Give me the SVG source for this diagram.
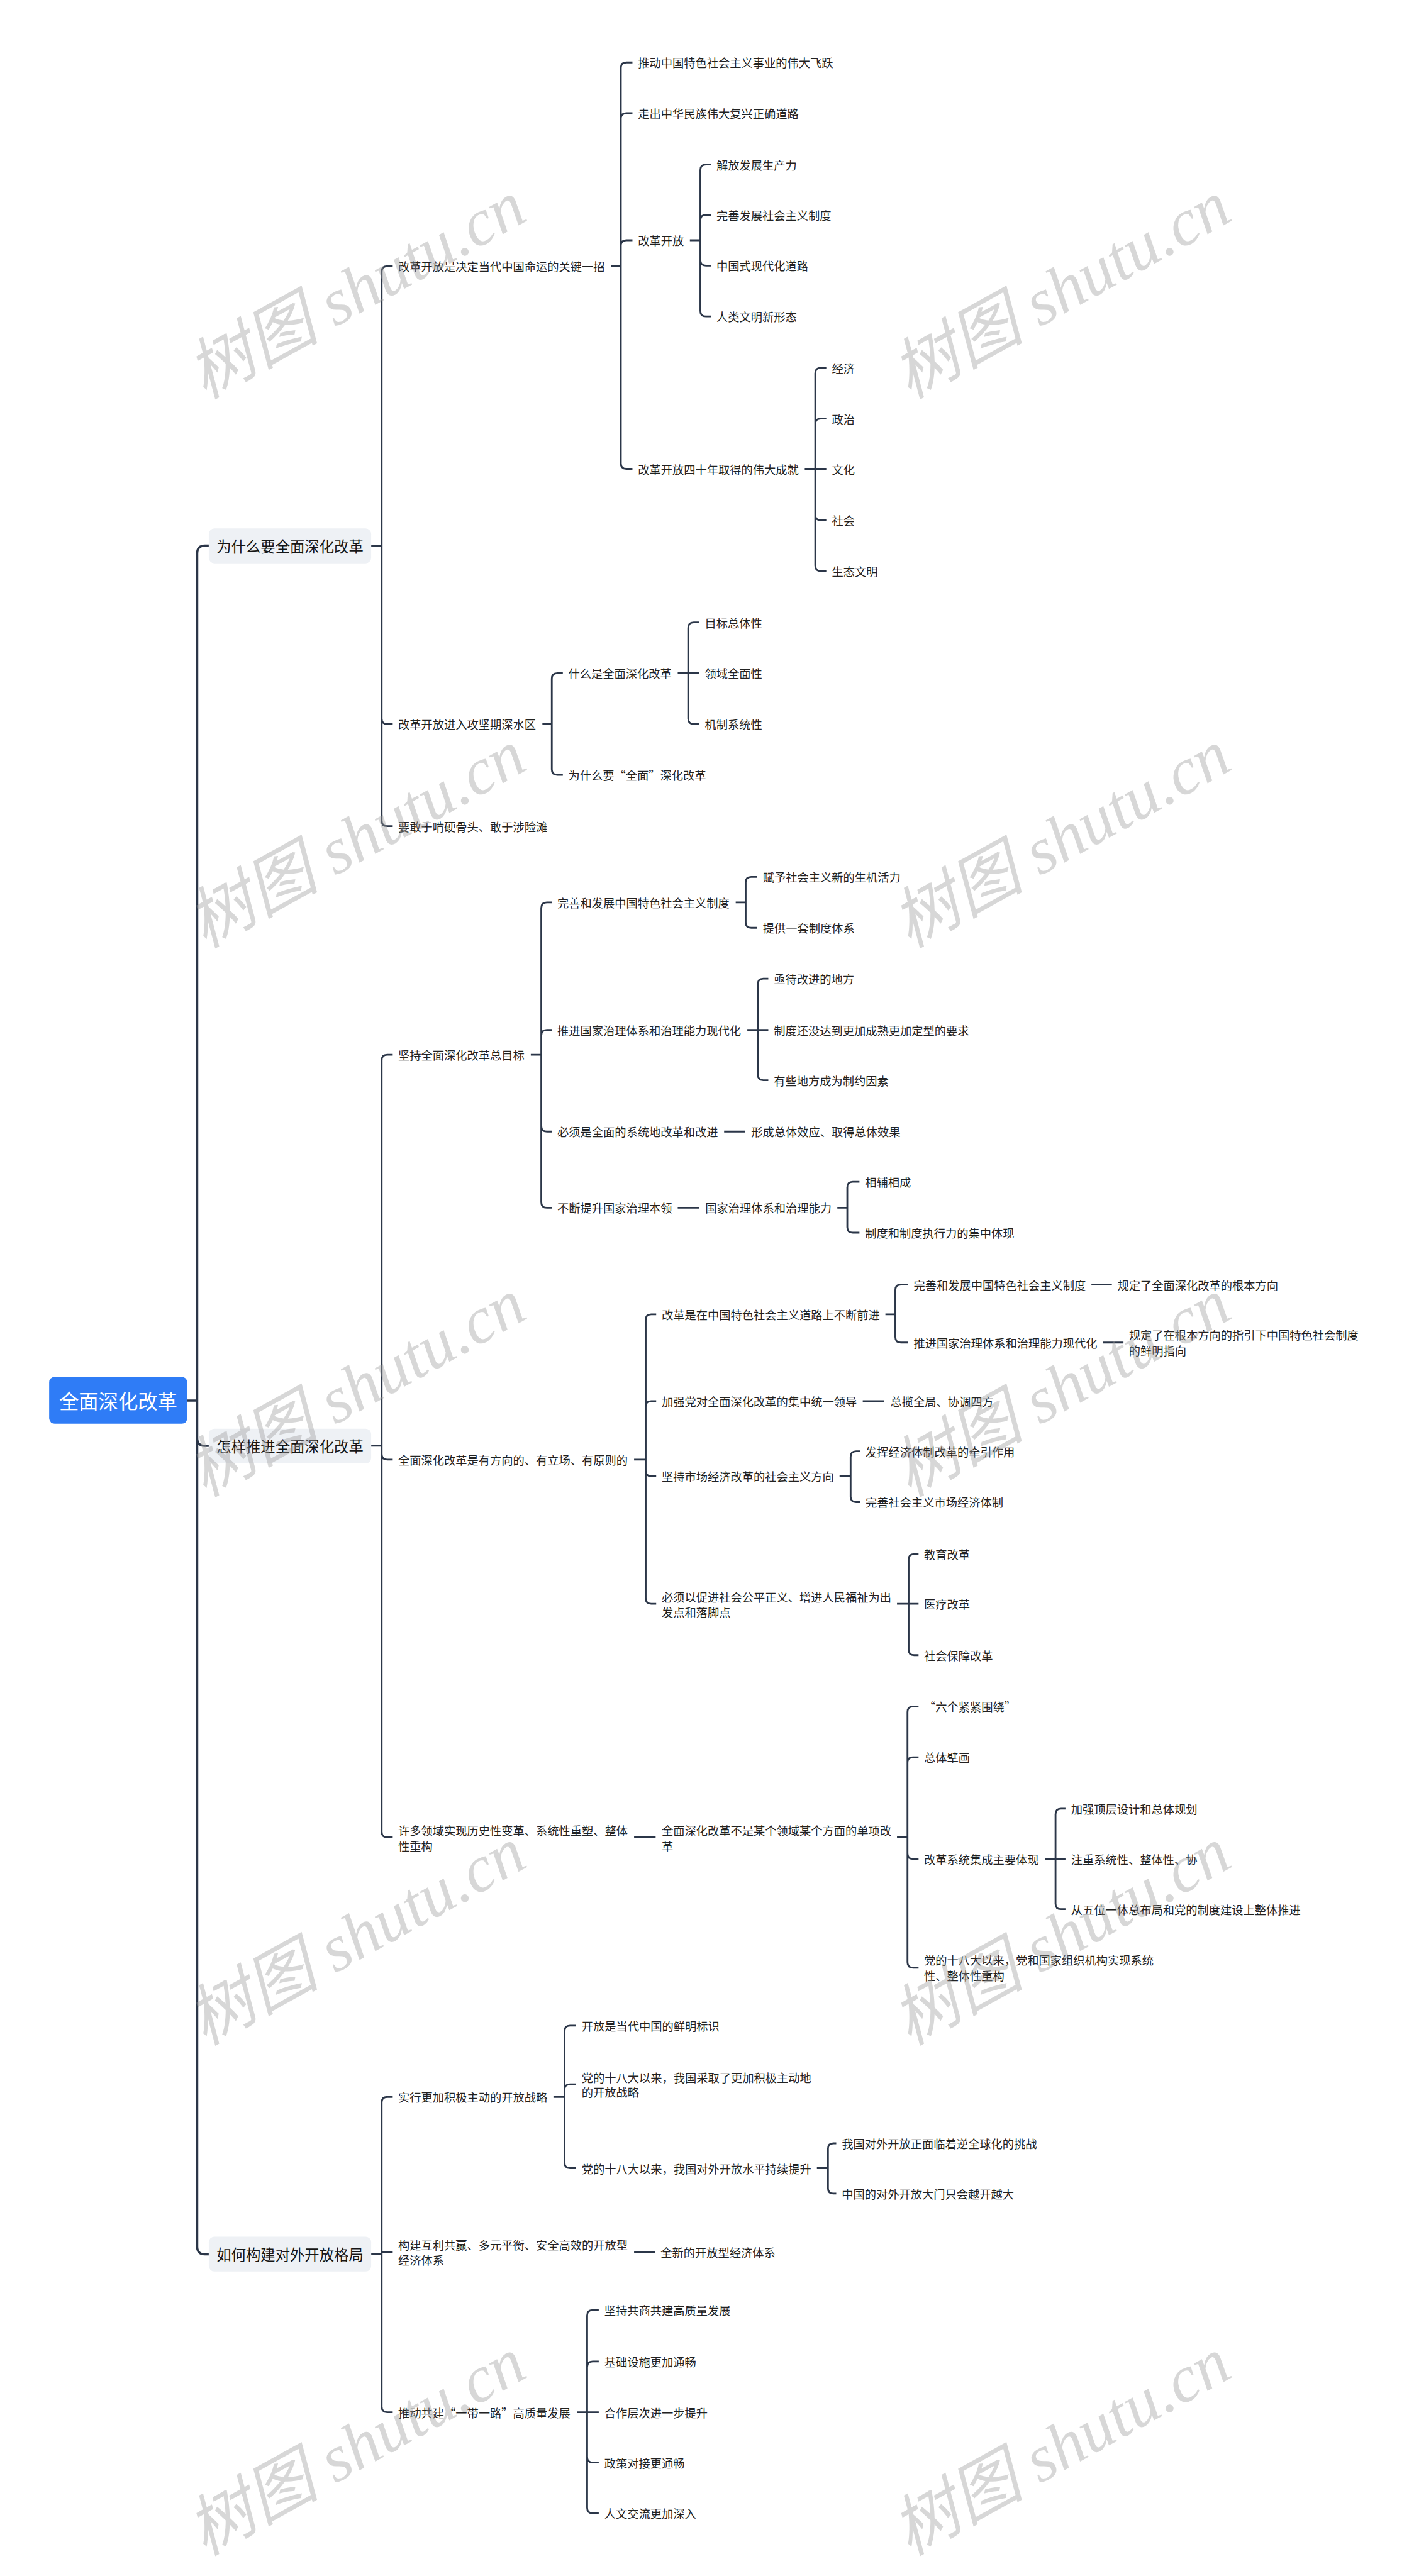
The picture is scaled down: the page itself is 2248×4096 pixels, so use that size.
<svg xmlns="http://www.w3.org/2000/svg" width="2248" height="4096" viewBox="0 0 2248 4096">
<style>
.t{font-family:"Noto Sans CJK SC","Liberation Sans",sans-serif;font-size:20.8px;fill:#222;dominant-baseline:central}
.l1{font-size:26.6px;fill:#161616;text-anchor:middle}
.rt{font-size:35.7px;fill:#ffffff;text-anchor:middle}
.c{fill:none;stroke:#2b3648;stroke-width:3.2}
.c0{fill:none;stroke:#2b3648;stroke-width:4}
.box{fill:#eef1f5}
.wm{font-family:"Liberation Serif","Noto Sans CJK SC",serif;font-style:italic;font-size:120px;fill:#9a9a9a;fill-opacity:0.4;text-anchor:middle;dominant-baseline:central}
</style>
<rect width="2248" height="4096" fill="#ffffff"/>
<g transform="scale(0.878125)">
<g id="connectors">
<path class="c0" d="M339,2536 H357 M357,2536 V1002 Q357,988 371,988 H378 M357,2536 V2604 Q357,2618 371,2618 H378 M357,2536 V4068 Q357,4082 371,4082 H378"/>
<path class="c" d="M672,988 H691 M691,988 V492 Q691,482 701,482 H711 M691,988 V1301 Q691,1311 701,1311 H711 M691,988 V1486 Q691,1496 701,1496 H711"/>
<path class="c" d="M1106,482 H1124 M1124,482 V123 Q1124,113 1134,113 H1145 M1124,482 V215 Q1124,205 1134,205 H1145 M1124,482 V445 Q1124,435 1134,435 H1145 M1124,482 V839 Q1124,849 1134,849 H1145"/>
<path class="c" d="M1249,435 H1268 M1268,435 V308 Q1268,298 1278,298 H1287 M1268,435 V399 Q1268,389 1278,389 H1287 M1268,435 V471 Q1268,481 1278,481 H1287 M1268,435 V563 Q1268,573 1278,573 H1287"/>
<path class="c" d="M1457,849 H1476 M1476,849 V676 Q1476,666 1486,666 H1496 M1476,849 V768 Q1476,758 1486,758 H1496 M1476,849 H1496 M1476,849 V932 Q1476,942 1486,942 H1496 M1476,849 V1024 Q1476,1034 1486,1034 H1496"/>
<path class="c" d="M982,1311 H999 M999,1311 V1229 Q999,1219 1009,1219 H1019 M999,1311 V1393 Q999,1403 1009,1403 H1019"/>
<path class="c" d="M1227,1219 H1246 M1246,1219 V1137 Q1246,1127 1256,1127 H1266 M1246,1219 H1266 M1246,1219 V1301 Q1246,1311 1256,1311 H1266"/>
<path class="c" d="M672,2618 H691 M691,2618 V1920 Q691,1910 701,1910 H711 M691,2618 V2633 Q691,2643 701,2643 H711 M691,2618 V3317 Q691,3327 701,3327 H711"/>
<path class="c" d="M961,1910 H980 M980,1910 V1644 Q980,1634 990,1634 H999 M980,1910 V1875 Q980,1865 990,1865 H999 M980,1910 V2039 Q980,2049 990,2049 H999 M980,1910 V2177 Q980,2187 990,2187 H999"/>
<path class="c" d="M1332,1634 H1350 M1350,1634 V1598 Q1350,1588 1360,1588 H1371 M1350,1634 V1670 Q1350,1680 1360,1680 H1371"/>
<path class="c" d="M1353,1865 H1372 M1372,1865 V1782 Q1372,1772 1382,1772 H1391 M1372,1865 H1391 M1372,1865 V1946 Q1372,1956 1382,1956 H1391"/>
<path class="c" d="M1311,2049 H1349 M1227,2187 H1266"/>
<path class="c" d="M1516,2187 H1534 M1534,2187 V2150 Q1534,2140 1544,2140 H1556 M1534,2187 V2222 Q1534,2232 1544,2232 H1556"/>
<path class="c" d="M1148,2643 H1169 M1169,2643 V2390 Q1169,2380 1179,2380 H1188 M1169,2643 V2547 Q1169,2537 1179,2537 H1188 M1169,2643 V2663 Q1169,2673 1179,2673 H1188 M1169,2643 V2894 Q1169,2904 1179,2904 H1188"/>
<path class="c" d="M1603,2380 H1621 M1621,2380 V2336 Q1621,2326 1631,2326 H1644 M1621,2380 V2421 Q1621,2431 1631,2431 H1644"/>
<path class="c" d="M1976,2326 H2013 M1997,2431 H2034 M1562,2537 H1601"/>
<path class="c" d="M1520,2673 H1540 M1540,2673 V2638 Q1540,2628 1550,2628 H1557 M1540,2673 V2710 Q1540,2720 1550,2720 H1557"/>
<path class="c" d="M1624,2904 H1645 M1645,2904 V2824 Q1645,2814 1655,2814 H1663 M1645,2904 H1663 M1645,2904 V2987 Q1645,2997 1655,2997 H1663"/>
<path class="c" d="M1148,3327 H1187 M1624,3327 H1643 M1643,3327 V3100 Q1643,3090 1653,3090 H1663 M1643,3327 V3192 Q1643,3182 1653,3182 H1663 M1643,3327 V3356 Q1643,3366 1653,3366 H1663 M1643,3327 V3553 Q1643,3563 1653,3563 H1663"/>
<path class="c" d="M1892,3366 H1911 M1911,3366 V3285 Q1911,3275 1921,3275 H1929 M1911,3366 H1929 M1911,3366 V3447 Q1911,3457 1921,3457 H1929"/>
<path class="c" d="M672,4082 H691 M691,4082 V3807 Q691,3797 701,3797 H711 M691,4082 V4078 H711 M691,4082 V4358 Q691,4368 701,4368 H711"/>
<path class="c" d="M1002,3797 H1022 M1022,3797 V3678 Q1022,3668 1032,3668 H1043 M1022,3797 V3784 Q1022,3774 1032,3774 H1043 M1022,3797 V3916 Q1022,3926 1032,3926 H1043"/>
<path class="c" d="M1479,3926 H1499 M1499,3926 V3891 Q1499,3881 1509,3881 H1514 M1499,3926 V3962 Q1499,3972 1509,3972 H1514"/>
<path class="c" d="M1148,4078 H1186"/>
<path class="c" d="M1045,4368 H1063 M1063,4368 V4193 Q1063,4183 1073,4183 H1084 M1063,4368 V4286 Q1063,4276 1073,4276 H1084 M1063,4368 H1084 M1063,4368 V4449 Q1063,4459 1073,4459 H1084 M1063,4368 V4541 Q1063,4551 1073,4551 H1084"/>
</g>
<g id="root"><rect x="89" y="2493" width="250" height="85" rx="10" fill="#2f7cf6"/><text class="t rt" x="214" y="2536">全面深化改革</text></g>
<g id="b1"><rect class="box" x="378" y="957" width="294" height="63" rx="10"/><text class="t l1" x="525" y="988">为什么要全面深化改革</text></g>
<g id="b2"><rect class="box" x="378" y="2587" width="294" height="63" rx="10"/><text class="t l1" x="525" y="2618">怎样推进全面深化改革</text></g>
<g id="b3"><rect class="box" x="378" y="4050" width="294" height="63" rx="10"/><text class="t l1" x="525" y="4081">如何构建对外开放格局</text></g>
<g id="n1"><text class="t" x="721" y="482">改革开放是决定当代中国命运的关键一招</text></g>
<g id="n1a"><text class="t" x="1155" y="113">推动中国特色社会主义事业的伟大飞跃</text></g>
<g id="n1b"><text class="t" x="1155" y="205">走出中华民族伟大复兴正确道路</text></g>
<g id="n1c"><text class="t" x="1155" y="435">改革开放</text></g>
<g id="n1c1"><text class="t" x="1297" y="298">解放发展生产力</text></g>
<g id="n1c2"><text class="t" x="1297" y="389">完善发展社会主义制度</text></g>
<g id="n1c3"><text class="t" x="1297" y="481">中国式现代化道路</text></g>
<g id="n1c4"><text class="t" x="1297" y="573">人类文明新形态</text></g>
<g id="n1d"><text class="t" x="1155" y="849">改革开放四十年取得的伟大成就</text></g>
<g id="n1d1"><text class="t" x="1506" y="666">经济</text></g>
<g id="n1d2"><text class="t" x="1506" y="758">政治</text></g>
<g id="n1d3"><text class="t" x="1506" y="849">文化</text></g>
<g id="n1d4"><text class="t" x="1506" y="942">社会</text></g>
<g id="n1d5"><text class="t" x="1506" y="1034">生态文明</text></g>
<g id="n2"><text class="t" x="721" y="1311">改革开放进入攻坚期深水区</text></g>
<g id="n2a"><text class="t" x="1029" y="1219">什么是全面深化改革</text></g>
<g id="n2a1"><text class="t" x="1276" y="1127">目标总体性</text></g>
<g id="n2a2"><text class="t" x="1276" y="1219">领域全面性</text></g>
<g id="n2a3"><text class="t" x="1276" y="1311">机制系统性</text></g>
<g id="n2b"><text class="t" x="1029" y="1403">为什么要“全面”深化改革</text></g>
<g id="n3"><text class="t" x="721" y="1496">要敢于啃硬骨头、敢于涉险滩</text></g>
<g id="m1"><text class="t" x="721" y="1910">坚持全面深化改革总目标</text></g>
<g id="m1a"><text class="t" x="1009" y="1634">完善和发展中国特色社会主义制度</text></g>
<g id="m1a1"><text class="t" x="1381" y="1588">赋予社会主义新的生机活力</text></g>
<g id="m1a2"><text class="t" x="1381" y="1680">提供一套制度体系</text></g>
<g id="m1b"><text class="t" x="1009" y="1865">推进国家治理体系和治理能力现代化</text></g>
<g id="m1b1"><text class="t" x="1401" y="1772">亟待改进的地方</text></g>
<g id="m1b2"><text class="t" x="1401" y="1865">制度还没达到更加成熟更加定型的要求</text></g>
<g id="m1b3"><text class="t" x="1401" y="1956">有些地方成为制约因素</text></g>
<g id="m1c"><text class="t" x="1009" y="2049">必须是全面的系统地改革和改进</text></g>
<g id="m1c1"><text class="t" x="1360" y="2049">形成总体效应、取得总体效果</text></g>
<g id="m1d"><text class="t" x="1009" y="2187">不断提升国家治理本领</text></g>
<g id="m1d1"><text class="t" x="1277" y="2187">国家治理体系和治理能力</text></g>
<g id="m1d1a"><text class="t" x="1566" y="2140">相辅相成</text></g>
<g id="m1d1b"><text class="t" x="1566" y="2232">制度和制度执行力的集中体现</text></g>
<g id="m2"><text class="t" x="721" y="2643">全面深化改革是有方向的、有立场、有原则的</text></g>
<g id="m2a"><text class="t" x="1198" y="2380">改革是在中国特色社会主义道路上不断前进</text></g>
<g id="m2a1"><text class="t" x="1654" y="2326">完善和发展中国特色社会主义制度</text></g>
<g id="m2a1a"><text class="t" x="2023" y="2326">规定了全面深化改革的根本方向</text></g>
<g id="m2a2"><text class="t" x="1654" y="2431">推进国家治理体系和治理能力现代化</text></g>
<g id="m2a2a"><text class="t" x="2044" y="2417">规定了在根本方向的指引下中国特色社会制度</text><text class="t" x="2044" y="2445">的鲜明指向</text></g>
<g id="m2b"><text class="t" x="1198" y="2537">加强党对全面深化改革的集中统一领导</text></g>
<g id="m2b1"><text class="t" x="1612" y="2537">总揽全局、协调四方</text></g>
<g id="m2c"><text class="t" x="1198" y="2673">坚持市场经济改革的社会主义方向</text></g>
<g id="m2c1"><text class="t" x="1567" y="2628">发挥经济体制改革的牵引作用</text></g>
<g id="m2c2"><text class="t" x="1567" y="2720">完善社会主义市场经济体制</text></g>
<g id="m2d"><text class="t" x="1198" y="2891">必须以促进社会公平正义、增进人民福祉为出</text><text class="t" x="1198" y="2919">发点和落脚点</text></g>
<g id="m2d1"><text class="t" x="1673" y="2814">教育改革</text></g>
<g id="m2d2"><text class="t" x="1673" y="2904">医疗改革</text></g>
<g id="m2d3"><text class="t" x="1673" y="2997">社会保障改革</text></g>
<g id="m3"><text class="t" x="721" y="3314">许多领域实现历史性变革、系统性重塑、整体</text><text class="t" x="721" y="3342">性重构</text></g>
<g id="m3a"><text class="t" x="1198" y="3314">全面深化改革不是某个领域某个方面的单项改</text><text class="t" x="1198" y="3342">革</text></g>
<g id="m3a1"><text class="t" x="1673" y="3090">“六个紧紧围绕”</text></g>
<g id="m3a2"><text class="t" x="1673" y="3182">总体擘画</text></g>
<g id="m3a3"><text class="t" x="1673" y="3366">改革系统集成主要体现</text></g>
<g id="m3a3a"><text class="t" x="1939" y="3275">加强顶层设计和总体规划</text></g>
<g id="m3a3b"><text class="t" x="1939" y="3366">注重系统性、整体性、协</text></g>
<g id="m3a3c"><text class="t" x="1939" y="3457">从五位一体总布局和党的制度建设上整体推进</text></g>
<g id="m3a4"><text class="t" x="1673" y="3549">党的十八大以来，党和国家组织机构实现系统</text><text class="t" x="1673" y="3577">性、整体性重构</text></g>
<g id="k1"><text class="t" x="721" y="3797">实行更加积极主动的开放战略</text></g>
<g id="k1a"><text class="t" x="1053" y="3668">开放是当代中国的鲜明标识</text></g>
<g id="k1b"><text class="t" x="1053" y="3761">党的十八大以来，我国采取了更加积极主动地</text><text class="t" x="1053" y="3788">的开放战略</text></g>
<g id="k1c"><text class="t" x="1053" y="3926">党的十八大以来，我国对外开放水平持续提升</text></g>
<g id="k1c1"><text class="t" x="1524" y="3881">我国对外开放正面临着逆全球化的挑战</text></g>
<g id="k1c2"><text class="t" x="1524" y="3972">中国的对外开放大门只会越开越大</text></g>
<g id="k2"><text class="t" x="721" y="4064">构建互利共赢、多元平衡、安全高效的开放型</text><text class="t" x="721" y="4092">经济体系</text></g>
<g id="k2a"><text class="t" x="1196" y="4078">全新的开放型经济体系</text></g>
<g id="k3"><text class="t" x="721" y="4368">推动共建“一带一路”高质量发展</text></g>
<g id="k3a"><text class="t" x="1094" y="4183">坚持共商共建高质量发展</text></g>
<g id="k3b"><text class="t" x="1094" y="4276">基础设施更加通畅</text></g>
<g id="k3c"><text class="t" x="1094" y="4368">合作层次进一步提升</text></g>
<g id="k3d"><text class="t" x="1094" y="4459">政策对接更通畅</text></g>
<g id="k3e"><text class="t" x="1094" y="4551">人文交流更加深入</text></g>
<g id="watermarks">
<text class="wm" transform="translate(645,525) rotate(-29)">树图 shutu.cn</text>
<text class="wm" transform="translate(1921,525) rotate(-29)">树图 shutu.cn</text>
<text class="wm" transform="translate(645,1519) rotate(-29)">树图 shutu.cn</text>
<text class="wm" transform="translate(1921,1519) rotate(-29)">树图 shutu.cn</text>
<text class="wm" transform="translate(645,2513) rotate(-29)">树图 shutu.cn</text>
<text class="wm" transform="translate(1921,2513) rotate(-29)">树图 shutu.cn</text>
<text class="wm" transform="translate(645,3506) rotate(-29)">树图 shutu.cn</text>
<text class="wm" transform="translate(1921,3506) rotate(-29)">树图 shutu.cn</text>
<text class="wm" transform="translate(645,4430) rotate(-29)">树图 shutu.cn</text>
<text class="wm" transform="translate(1921,4430) rotate(-29)">树图 shutu.cn</text>
</g>
</g>
</svg>
